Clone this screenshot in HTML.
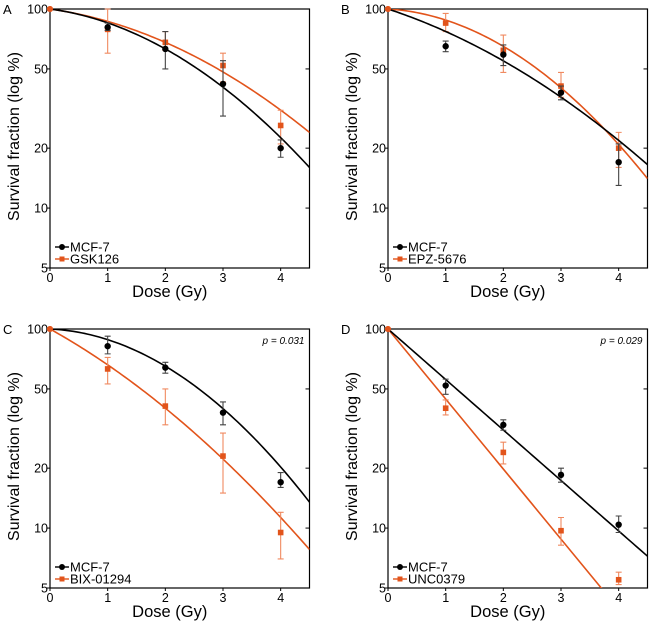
<!DOCTYPE html>
<html><head><meta charset="utf-8"><style>
body{margin:0;background:#fff;width:650px;height:624px;overflow:hidden}
svg{font-family:"Liberation Sans",Arial,sans-serif}
</style></head><body>
<svg id="fig" width="650" height="624"></svg>
<script>
const panelLetters=["A","B","C","D"];
const seriesNames=[["MCF-7","GSK126"],["MCF-7","EPZ-5676"],["MCF-7","BIX-01294"],["MCF-7","UNC0379"]];
const doses=[1,2,3,4];
const xTicks=[0,1,2,3,4];
const yTicks=[100,50,20,10,5];
const pValues=["","","p = 0.031","p = 0.029"];
// LQ fit parameters [alpha, beta] for each series (black, orange)
const fitA=[[0.09,0.0705],[0.0936,0.0497]];
const fitB=[[0.22,0.04],[0.04,0.088]];
const fitC=[[0.031,0.092],[0.371,0.0435]];
const fitD=[[0.584,0],[0.81,0]];
// means
const meanA=[[81,63,42,20],[79,68,52,26]];
const meanB=[[65,59,38,17],[85,62,41,20]];
const meanC=[[82,64,38,17],[63,41,23,9.5]];
const meanD=[[52,33,18.5,10.4],[40,24,9.7,5.5]];
// error bar lows/highs
const lowA=[[78,50,29,18],[60,62,43,21]];
const highA=[[85,77,55,22],[100,77,60,31]];
const lowB=[[61,52,35,13],[77,48,36,16]];
const highB=[[69,66,41,21],[95,74,48,24]];
const lowC=[[75,60,33,16],[53,33,15,7]];
const highC=[[92,68,43,19],[72,50,30,12]];
const lowD=[[47,31,17,9.5],[37,21,8.2,5.2]];
const highD=[[56,35,20,11.5],[44,27,11.3,6]];

const fits=[fitA,fitB,fitC,fitD], means=[meanA,meanB,meanC,meanD], lows=[lowA,lowB,lowC,lowD], highs=[highA,highB,highC,highD];
const origins=[[50,9],[388,9],[50,329],[388,329]];
const W=259.5,H=259,XMAX=4.5;
const colors=["#000000","#e2541b"];
const NS="http://www.w3.org/2000/svg";
const svg=document.getElementById("fig");
function mk(tag,attrs,parent){const e=document.createElementNS(NS,tag);for(const k in attrs)e.setAttribute(k,attrs[k]);(parent||svg).appendChild(e);return e;}

for(let p=0;p<4;p++){
  const [ox,oy]=origins[p];
  const xs=d=>ox+d/XMAX*W;
  const ys=v=>oy+(2-Math.log10(v))/(2-Math.log10(5))*H;
  const g=mk("g",{});
  
  
  const lt=mk("text",{x:ox-47,y:oy+5,"font-size":13},g);lt.textContent=panelLetters[p];
  
  
  const clip=mk("clipPath",{id:"c"+p},g);mk("rect",{x:ox,y:oy,width:W,height:H},clip);
  const fr=mk("rect",{x:ox,y:oy,width:W,height:H,fill:"none",stroke:"#000","stroke-width":1.2},g);
  
  
  yTicks.forEach(v=>{
    const y=ys(v);
    mk("line",{x1:ox-3,x2:ox,y1:y,y2:y,stroke:"#000"},g);
    mk("line",{x1:ox+W-4,x2:ox+W,y1:y,y2:y,stroke:"#000"},g);
    const t=mk("text",{x:ox-2,y:y+4.5,"font-size":12.5,"text-anchor":"end"},g);t.textContent=v;
    
    
  });
  xTicks.forEach(d=>{
    const x=xs(d);
    mk("line",{x1:x,x2:x,y1:oy+H,y2:oy+H+3,stroke:"#000"},g);
    const t=mk("text",{x:x,y:oy+H+14,"font-size":12.5,"text-anchor":"middle"},g);t.textContent=d;
    
    
  });
  const xt=mk("text",{x:ox+W/2-10,y:oy+H+29,"font-size":16.5,"text-anchor":"middle"},g);xt.textContent="Dose (Gy)";
  
  
  const yt=mk("text",{x:0,y:0,"font-size":16,"text-anchor":"middle",transform:`translate(${ox-31},${oy+H/2-2}) rotate(-90)`},g);yt.textContent="Survival fraction (log %)";
  
  
  if(pValues[p]){
    const pt=mk("text",{x:ox+W-5,y:oy+15,"font-size":10,"font-style":"italic","text-anchor":"end"},g);pt.textContent=pValues[p];
    
    
  }
  for(let s=1;s>=0;s--){
    const [a,b]=fits[p][s];
    let d="";
    for(let i=0;i<=90;i++){const x=XMAX*i/90;const v=100*Math.exp(-(a*x+b*x*x));d+=(i?"L":"M")+xs(x).toFixed(2)+","+ys(v).toFixed(2);}
    const path=mk("path",{d:d,fill:"none",stroke:colors[s],"stroke-width":1.6,"clip-path":`url(#c${p})`},g);
    
    
    doses.forEach((dd,i)=>{
      const x=xs(dd),lo=ys(lows[p][s][i]),hi=ys(highs[p][s][i]);
      const eb=mk("path",{d:`M${x},${lo}L${x},${hi}M${x-3},${lo}L${x+3},${lo}M${x-3},${hi}L${x+3},${hi}`,stroke:s?"#f08a60":"#444","stroke-width":1.1,fill:"none"},g);
      
      
      const y=ys(means[p][s][i]);
      const m=s?mk("rect",{x:x-2.8,y:y-2.8,width:5.6,height:5.6,fill:colors[s]},g):mk("circle",{cx:x,cy:y,r:3.2,fill:colors[s]},g);
      
      
    });
    const m0=mk("circle",{cx:xs(0),cy:ys(100),r:3,fill:colors[1]},g);
    
    
  }
  seriesNames[p].forEach((n,s)=>{
    const ly=oy+H-21+s*12;
    const lg=mk("g",{},g);
    
    
    mk("line",{x1:ox+5,x2:ox+19,y1:ly,y2:ly,stroke:colors[s],"stroke-width":1.4},lg);
    if(s)mk("rect",{x:ox+9.5,y:ly-2.5,width:5,height:5,fill:colors[s]},lg);else mk("circle",{cx:ox+12,cy:ly,r:3,fill:colors[s]},lg);
    const t=mk("text",{x:ox+20,y:ly+4.5,"font-size":13},lg);t.textContent=n;
  });
}
</script>
</body></html>
